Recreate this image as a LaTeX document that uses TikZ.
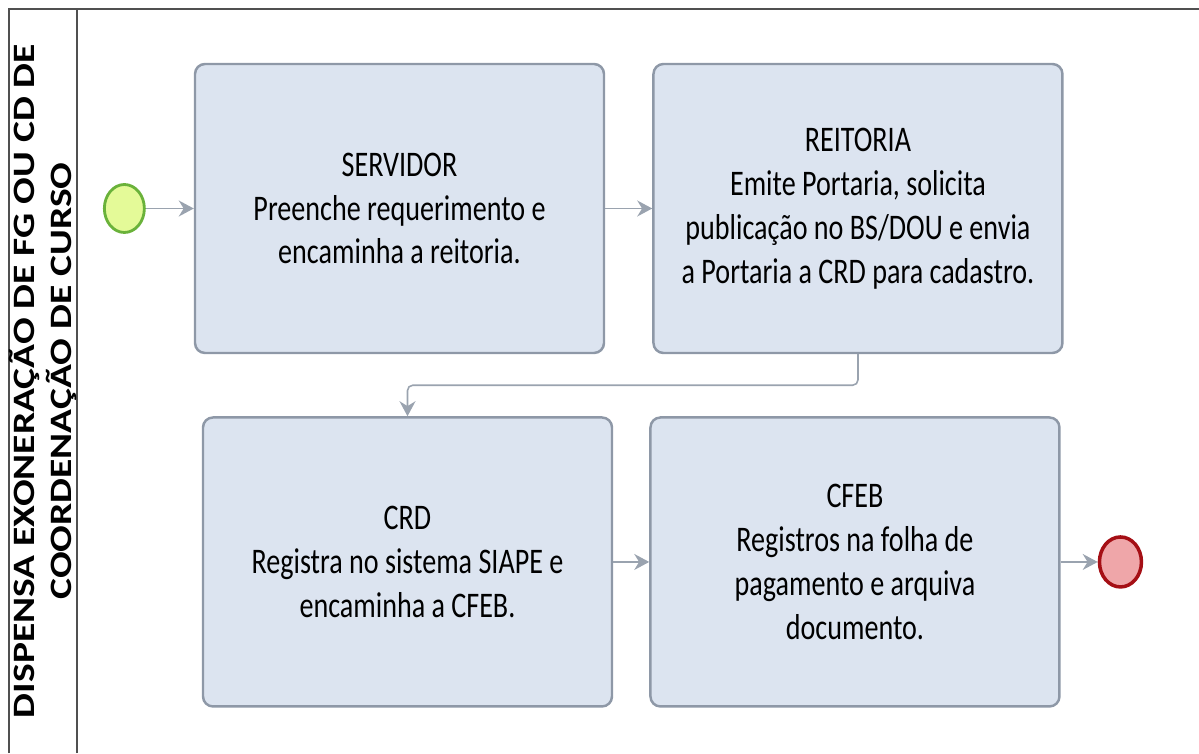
\documentclass[tikz,border=0pt]{standalone}
\usepackage{fontspec}
\setmainfont{Carlito}[FakeStretch=0.78]
\newfontfamily\lanefont{Carlito}[FakeStretch=1.27]
\usetikzlibrary{positioning,arrows.meta,shapes.geometric}
\definecolor{boxfill}{HTML}{DCE4F0}
\definecolor{boxline}{HTML}{8E98A7}
\definecolor{flowline}{HTML}{9AA3AF}
\definecolor{framecol}{HTML}{505050}
\definecolor{startfill}{HTML}{E4FA98}
\definecolor{startline}{HTML}{6AB23A}
\definecolor{endfill}{HTML}{EFA6A9}
\definecolor{endline}{HTML}{A50F15}

\begin{document}
\begin{tikzpicture}[
  node distance=0.94cm,
  block/.style={draw=boxline, line width=1.4pt, rounded corners=0.2cm, fill=boxfill, minimum width=8.18cm, minimum height=5.78cm, align=center, font=\fontsize{20.5}{25}\selectfont},
  event/.style={ellipse, line width=1.6pt, minimum width=0.8cm, minimum height=0.96cm, inner sep=0pt},
  arrow/.style={-{Stealth[length=3mm,width=3.2mm]}, draw=flowline, line width=0.9pt}
]
\useasboundingbox (0,0) rectangle (23.98,15.06);
% pool and lane
\draw[framecol, line width=1.1pt] (0.18,0) -- (0.18,14.88) -- (23.98,14.88);
\draw[framecol, line width=1.1pt] (1.54,0) -- (1.54,14.88);
\node[rotate=90, align=center, font=\lanefont\bfseries\fontsize{17.7}{21.5}\selectfont] (lane) at (0.86,7.44) {DISPENSA EXONERAÇÃO DE FG OU CD DE\\COORDENAÇÃO DE CURSO};

\node[block] (servidor) at (7.99,10.89) {SERVIDOR\\Preenche requerimento e\\encaminha a reitoria.};
\node[block, right=of servidor] (reitoria) {REITORIA\\Emite Portaria, solicita\\publicação no BS/DOU e envia\\a Portaria a CRD para cadastro.};
\node[block, below=1.24cm of servidor, xshift=0.16cm] (crd) {CRD\\Registra no sistema SIAPE e\\encaminha a CFEB.};
\node[block, right=0.72cm of crd] (cfeb) {CFEB\\Registros na folha de\\pagamento e arquiva\\documento.};
\node[event, draw=startline, fill=startfill, left=0.96cm of servidor] (start) {};
\node[event, draw=endline, fill=endfill, line width=2pt, minimum width=0.84cm, minimum height=1cm, right=0.74cm of cfeb] (end) {};

\draw[arrow] (start) -- (servidor);
\draw[arrow] (servidor) -- (reitoria);
\draw[arrow, rounded corners=3pt] (reitoria.south) -- ++(0,-0.62) -| (crd.north);
\draw[arrow] (crd) -- (cfeb);
\draw[arrow] (cfeb) -- (end);
\end{tikzpicture}
\end{document}
